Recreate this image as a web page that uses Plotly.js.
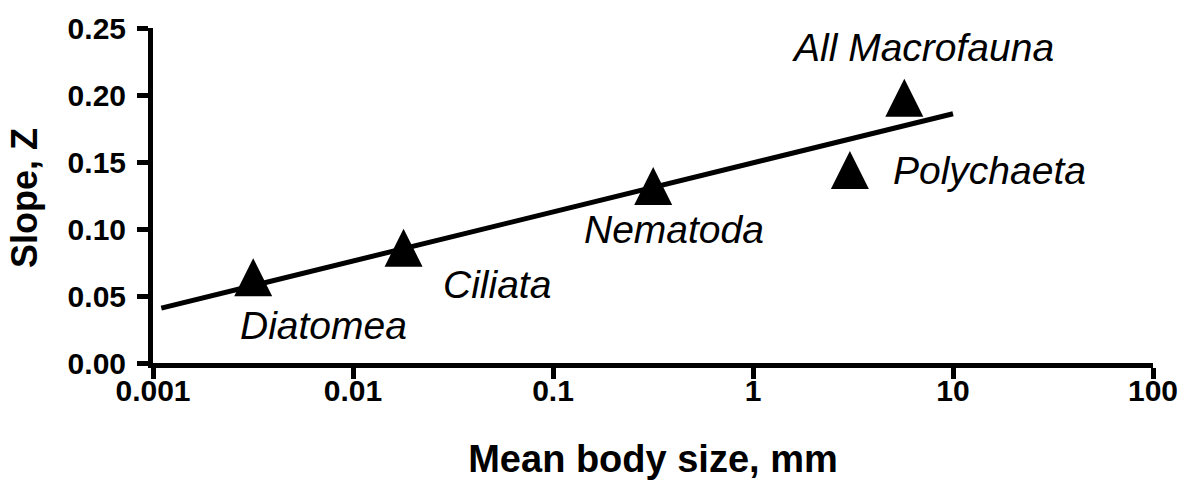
<!DOCTYPE html>
<html>
<head>
<meta charset="utf-8">
<script src="https://cdn.plot.ly/plotly-3.0.1.min.js"></script>
<style>html,body{margin:0;padding:0;background:#fff;}#chart{width:1195px;height:487px;}</style>
</head>
<body>
<div id="chart"></div>
<script>
// Data
var groups = ["Diatomea", "Ciliata", "Nematoda", "Polychaeta", "All Macrofauna"];
var bodySize = [0.00317, 0.0179, 0.317, 3.05, 5.71];      // mm
var slopeZ = [0.064, 0.086, 0.132, 0.144, 0.198];
var fitX = [0.0011, 10];
var fitY = [0.041, 0.186];
var xTickVals = [0.001, 0.01, 0.1, 1, 10, 100];
var xTickText = ["0.001", "0.01", "0.1", "1", "10", "100"];
var yTickVals = [0, 0.05, 0.10, 0.15, 0.20, 0.25];
var xTitle = "Mean body size, mm";
var yTitle = "Slope, Z";

// label placement (paper coords from pixel layout)
var L = 153, W = 1000, B = 363, H = 335;
function px(x) { return (x - L) / W; }
function py(y) { return (B - y) / H; }
var labelPos = [[238, 325], [441, 284], [582, 229], [891, 170], [790, 48]];

var markerSize = 38;
var halfTri = markerSize / 2 * 0.25 / H; // offset so arrow shape is centred on value

var traces = [
  { x: fitX, y: fitY, mode: "lines", type: "scatter",
    line: { color: "#000", width: 5 }, hoverinfo: "skip" },
  { x: bodySize, y: slopeZ, mode: "markers", type: "scatter", yaxis: "y2",
    text: groups,
    marker: { symbol: "arrow-up", size: markerSize, color: "#000", line: { width: 0 } } }
];

var annotations = groups.map(function (g, i) {
  return { text: g, xref: "paper", yref: "paper",
    x: px(labelPos[i][0]), y: py(labelPos[i][1]),
    xanchor: "left", yanchor: "middle", showarrow: false,
    font: { family: "Liberation Sans, Arial, sans-serif", size: 39, style: "italic", color: "#000" } };
});
annotations.push({
  text: yTitle, xref: "paper", yref: "paper", x: px(24), y: py(198),
  xanchor: "center", yanchor: "middle", textangle: -90, showarrow: false,
  font: { family: "Liberation Sans, Arial, sans-serif", size: 36, weight: "bold", color: "#000" }
});

var tickFont = { family: "Liberation Sans, Arial, sans-serif", size: 30, weight: "bold", color: "#000" };
var titleFont = { family: "Liberation Sans, Arial, sans-serif", size: 38, weight: "bold", color: "#000" };

var layout = {
  width: 1195, height: 487,
  margin: { l: 153, r: 42, t: 28, b: 124 },
  paper_bgcolor: "#fff", plot_bgcolor: "#fff",
  showlegend: false,
  xaxis: {
    type: "log", range: [-3, 2],
    tickvals: xTickVals, ticktext: xTickText,
    showgrid: false, zeroline: false,
    showline: true, linecolor: "#000", linewidth: 5,
    ticks: "outside", ticklen: 11, tickwidth: 5, tickcolor: "#000",
    tickfont: tickFont, ticklabelstandoff: -14,
    title: { text: xTitle, font: titleFont, standoff: 41 }
  },
  yaxis: {
    range: [0, 0.25], tickvals: yTickVals, tickformat: ".2f",
    showgrid: false, zeroline: false,
    showline: true, linecolor: "#000", linewidth: 5,
    ticks: "outside", ticklen: 11, tickwidth: 5, tickcolor: "#000",
    tickfont: tickFont, ticklabelstandoff: 5
  },
  yaxis2: {
    overlaying: "y", range: [0 - halfTri, 0.25 - halfTri],
    visible: false, showgrid: false, zeroline: false
  },
  annotations: annotations
};

Plotly.newPlot("chart", traces, layout, { staticPlot: true, displayModeBar: false });
</script>
</body>
</html>
